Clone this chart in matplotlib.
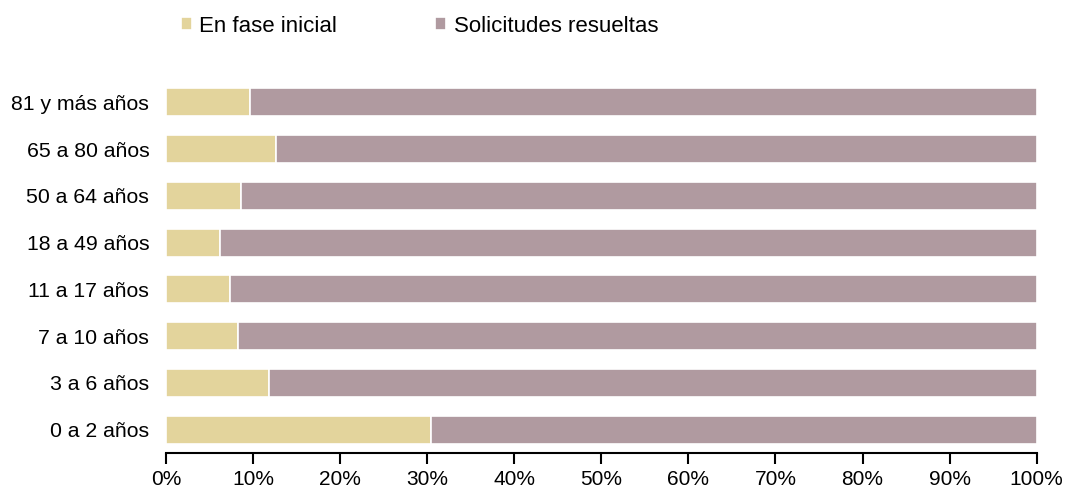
import matplotlib.pyplot as plt
from matplotlib.ticker import PercentFormatter

plt.rcParams['font.family'] = ['Liberation Sans', 'DejaVu Sans']

grupos = ['0 a 2 años', '3 a 6 años', '7 a 10 años', '11 a 17 años',
          '18 a 49 años', '50 a 64 años', '65 a 80 años', '81 y más años']
fase_inicial = [30.4, 11.8, 8.3, 7.3, 6.2, 8.6, 12.6, 9.6]
resueltas = [100 - v for v in fase_inicial]

color_ini = '#E3D49C'
color_res = '#B09AA0'

fig = plt.figure(figsize=(10.67, 4.93), dpi=100)
ax = fig.add_axes([0.1556, 0.0811, 0.8160, 0.7587])

y = range(len(grupos))
ax.barh(y, fase_inicial, height=0.6, color=color_ini, edgecolor='white',
        linewidth=1.2, label='En fase inicial')
ax.barh(y, resueltas, left=fase_inicial, height=0.6, color=color_res,
        edgecolor='white', linewidth=1.2, label='Solicitudes resueltas')

ax.set_xlim(0, 100)
ax.set_ylim(-0.5, len(grupos) - 0.5)
ax.set_yticks(list(y))
ax.set_yticklabels(grupos, fontsize=15.3)
ax.set_xticks(range(0, 101, 10))
ax.xaxis.set_major_formatter(PercentFormatter(decimals=0))
ax.tick_params(axis='x', labelsize=15, length=8, width=1.5, pad=4, color='black')
ax.tick_params(axis='y', length=0, pad=12)
for s in ['top', 'right', 'left']:
    ax.spines[s].set_visible(False)
ax.spines['bottom'].set_linewidth(1.5)

fig.legend(loc='center', bbox_to_anchor=(0.393, 0.947), ncol=2, frameon=False,
           fontsize=16, handlelength=0.5, handleheight=0.5,
           handletextpad=0.34, columnspacing=4.4)

fig.savefig('out.png', dpi=100)
